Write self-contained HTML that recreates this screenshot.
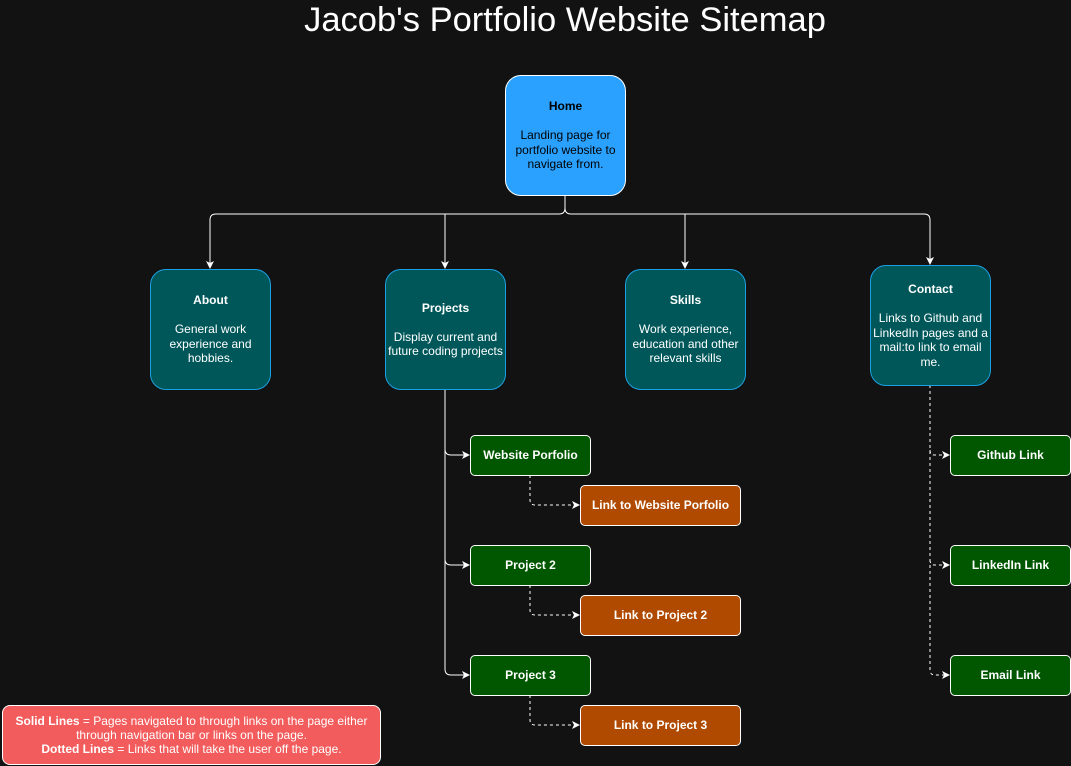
<!DOCTYPE html>
<html><head><meta charset="utf-8"><style>
body{margin:0;width:1071px;height:766px;background:#121212;position:relative;overflow:hidden;font-family:"Liberation Sans",sans-serif}
.b{position:absolute;box-sizing:border-box;display:flex;align-items:center;justify-content:center;text-align:center;font-size:12px;line-height:14.5px;color:#fff}
.t{background:#00575a;border:1px solid #1ba1e2;border-radius:16px;width:121px;height:121px}
.g{background:#005700;border:1px solid #fff;border-radius:5px;width:121px;height:41px;font-weight:bold}
.o{background:#b04a00;border:1px solid #fff;border-radius:5px;width:161px;height:41px;font-weight:bold}
h1{position:absolute;top:0;left:0;width:1130px;text-align:center;margin:0;font-weight:normal;font-size:34.5px;color:#fff;line-height:40px}
</style></head><body>
<h1>Jacob's Portfolio Website Sitemap</h1>
<svg width="1071" height="766" style="position:absolute;left:0;top:0">
<defs><marker id="a" markerWidth="8" markerHeight="8" refX="7" refY="4" orient="auto" markerUnits="userSpaceOnUse"><path d="M0,0 L8,4 L0,8 L2,4z" fill="#fff"/></marker></defs>
<g stroke="#fff" fill="none" stroke-width="1">
<path d="M565,195 V208 Q565,214 559,214 H216 Q210,214 210,220 V268" marker-end="url(#a)"/>
<path d="M565,195 V208 Q565,214 571,214 H924 Q930,214 930,220 V264" marker-end="url(#a)"/>
<path d="M445,214 Q445,214 445,220 V268" marker-end="url(#a)"/>
<path d="M685,214 V268" marker-end="url(#a)"/>
<path d="M445,389 V669 Q445,675 451,675 H469" marker-end="url(#a)"/>
<path d="M445,449 Q445,455 451,455 H469" marker-end="url(#a)"/>
<path d="M445,559 Q445,565 451,565 H469" marker-end="url(#a)"/>
<g stroke-dasharray="3,3">
<path d="M530,475 V500 Q530,505 535,505 H579" marker-end="url(#a)"/>
<path d="M530,585 V610 Q530,615 535,615 H579" marker-end="url(#a)"/>
<path d="M530,695 V720 Q530,725 535,725 H579" marker-end="url(#a)"/>
<path d="M930,385 V670 Q930,675 935,675 H949" marker-end="url(#a)"/>
<path d="M930,450 Q930,455 935,455 H949" marker-end="url(#a)"/>
<path d="M930,560 Q930,565 935,565 H949" marker-end="url(#a)"/>
</g></g></svg>
<div class="b t" style="left:505px;top:75px;background:#2aa1ff;color:#000;border-color:#fff"><div><b>Home</b><br><br>Landing page for<br>portfolio website to<br>navigate from.</div></div>
<div class="b t" style="left:150px;top:269px"><div><b>About</b><br><br>General work<br>experience and<br>hobbies.</div></div>
<div class="b t" style="left:385px;top:269px"><div><b>Projects</b><br><br>Display current and<br>future coding projects</div></div>
<div class="b t" style="left:625px;top:269px"><div><b>Skills</b><br><br>Work experience,<br>education and other<br>relevant skills</div></div>
<div class="b t" style="left:870px;top:265px"><div><b>Contact</b><br><br>Links to Github and<br>LinkedIn pages and a<br>mail:to link to email<br>me.</div></div>
<div class="b g" style="left:470px;top:435px">Website Porfolio</div>
<div class="b g" style="left:470px;top:545px">Project 2</div>
<div class="b g" style="left:470px;top:655px">Project 3</div>
<div class="b o" style="left:580px;top:485px">Link to Website Porfolio</div>
<div class="b o" style="left:580px;top:595px">Link to Project 2</div>
<div class="b o" style="left:580px;top:705px">Link to Project 3</div>
<div class="b g" style="left:950px;top:435px">Github Link</div>
<div class="b g" style="left:950px;top:545px">LinkedIn Link</div>
<div class="b g" style="left:950px;top:655px">Email Link</div>
<div class="b" style="left:2px;top:705px;width:379px;height:60px;background:#f25c5c;border:1px solid #fff;border-radius:8px;line-height:14px"><div><b>Solid Lines</b> = Pages navigated to through links on the page either<br>through navigation bar or links on the page.<br><b>Dotted Lines</b> = Links that will take the user off the page.</div></div>
</body></html>
